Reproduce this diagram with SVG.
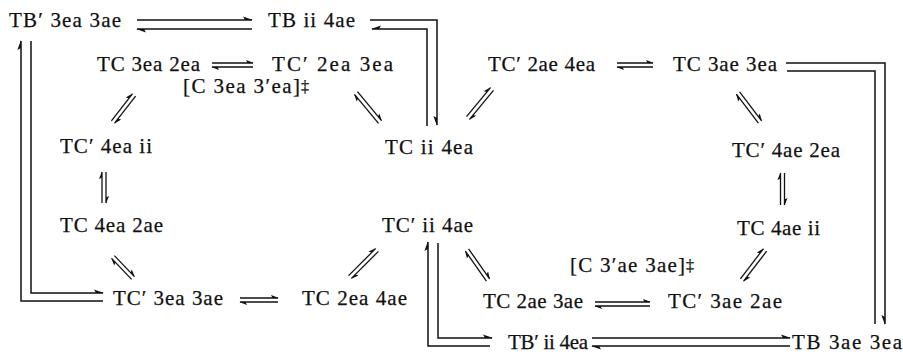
<svg xmlns="http://www.w3.org/2000/svg" width="903" height="355" viewBox="0 0 903 355">
<defs>
<style>
.t{font-family:"Liberation Serif","Times New Roman",serif;font-size:21px;fill:#111;stroke:#111;stroke-width:0.25}
.d{font-family:"Liberation Serif","Times New Roman",serif;font-size:16px;fill:#111;stroke:#111;stroke-width:0.25}
.c{fill:none;stroke:#111;stroke-width:1.5}
.s{fill:none;stroke:#111;stroke-width:1.3}
</style>
<marker id="hu" markerUnits="userSpaceOnUse" orient="auto" overflow="visible" markerWidth="1" markerHeight="1"><path d="M1,0 L-9,-3.6 L-7,0 Z" fill="#111"/></marker>
<marker id="hd" markerUnits="userSpaceOnUse" orient="auto" overflow="visible" markerWidth="1" markerHeight="1"><path d="M1,0 L-9,3.6 L-7,0 Z" fill="#111"/></marker>
<marker id="su" markerUnits="userSpaceOnUse" orient="auto" overflow="visible" markerWidth="1" markerHeight="1"><path d="M0.8,0 L-7,-3 L-5.5,0 Z" fill="#111"/></marker>
</defs>
<rect width="903" height="355" fill="#fff"/>

<g id="connectors">
<path class="c" d="M137,20 H252" marker-end="url(#hu)"/>
<path class="c" d="M252,29 H137" marker-end="url(#hu)"/>
<path class="c" d="M370,20 H437 V125" marker-end="url(#hd)"/>
<path class="c" d="M427,126 V29 H372" marker-end="url(#hd)"/>
<path class="c" d="M103,301 H21 V41" marker-end="url(#hu)"/>
<path class="c" d="M31,41 V293 H103" marker-end="url(#hu)"/>
<path class="c" d="M786,63 H885 V324" marker-end="url(#hd)"/>
<path class="c" d="M787,71 H875 V324"/>
<path class="c" d="M490,346 H428 V242" marker-end="url(#hu)"/>
<path class="c" d="M438,243 V338 H492" marker-end="url(#hu)"/>
<path class="c" d="M592,338 H790" marker-end="url(#hu)"/>
<path class="c" d="M790,346 H592" marker-end="url(#hu)"/>
<path class="s" d="M212,63 H253" marker-end="url(#su)"/>
<path class="s" d="M253,67 H212" marker-end="url(#su)"/>
<path class="s" d="M617,63 H653" marker-end="url(#su)"/>
<path class="s" d="M653,67 H617" marker-end="url(#su)"/>
<path class="s" d="M240,298 H278" marker-end="url(#su)"/>
<path class="s" d="M278,302 H240" marker-end="url(#su)"/>
<path class="s" d="M595,302 H650" marker-end="url(#su)"/>
<path class="s" d="M650,306 H595" marker-end="url(#su)"/>
<path class="s" d="M102,203 V172" marker-end="url(#su)"/>
<path class="s" d="M106,172 V203" marker-end="url(#su)"/>
<path class="s" d="M780.5,205 V173" marker-end="url(#su)"/>
<path class="s" d="M784.5,173 V205" marker-end="url(#su)"/>
<path class="s" d="M111.4,120.8 L132.4,93.8" marker-end="url(#su)"/>
<path class="s" d="M135.6,96.2 L114.6,123.2" marker-end="url(#su)"/>
<path class="s" d="M357.5,91.7 L381.5,120.7" marker-end="url(#su)"/>
<path class="s" d="M378.5,123.3 L354.5,94.3" marker-end="url(#su)"/>
<path class="s" d="M466.5,116.7 L490.5,87.7" marker-end="url(#su)"/>
<path class="s" d="M493.5,90.3 L469.5,119.3" marker-end="url(#su)"/>
<path class="s" d="M739.6,91.8 L761.6,120.8" marker-end="url(#su)"/>
<path class="s" d="M758.4,123.2 L736.4,94.2" marker-end="url(#su)"/>
<path class="s" d="M114.4,255.6 L134.4,276.6" marker-end="url(#su)"/>
<path class="s" d="M131.6,279.4 L111.6,258.4" marker-end="url(#su)"/>
<path class="s" d="M348.6,275.6 L375.6,248.6" marker-end="url(#su)"/>
<path class="s" d="M378.4,251.4 L351.4,278.4" marker-end="url(#su)"/>
<path class="s" d="M468.6,248.9 L489.6,278.9" marker-end="url(#su)"/>
<path class="s" d="M486.4,281.1 L465.4,251.1" marker-end="url(#su)"/>
<path class="s" d="M740.4,278.8 L763.4,248.8" marker-end="url(#su)"/>
<path class="s" d="M766.6,251.2 L743.6,281.2" marker-end="url(#su)"/>
</g>

<g id="n-TBp-3ea-3ae"><text class="t" x="9" y="27" textLength="112" lengthAdjust="spacing">TB′ 3ea 3ae</text></g>
<g id="n-TB-ii-4ae"><text class="t" x="268" y="27" textLength="87" lengthAdjust="spacing">TB ii 4ae</text></g>
<g id="n-TC-3ea-2ea"><text class="t" x="97" y="71" textLength="103" lengthAdjust="spacing">TC 3ea 2ea</text></g>
<g id="n-TCp-2ea-3ea"><text class="t" x="272" y="71" textLength="121" lengthAdjust="spacing">TC′ 2ea 3ea</text></g>
<g id="n-TCp-2ae-4ea"><text class="t" x="488" y="71" textLength="107" lengthAdjust="spacing">TC′ 2ae 4ea</text></g>
<g id="n-TC-3ae-3ea"><text class="t" x="673" y="71" textLength="104" lengthAdjust="spacing">TC 3ae 3ea</text></g>
<g id="n-C-3ea-3pea"><text class="t" x="183" y="93" textLength="117" lengthAdjust="spacing">[C 3ea 3′ea]</text><text class="d" x="301" y="92">‡</text></g>
<g id="n-TCp-4ea-ii"><text class="t" x="60" y="153" textLength="92" lengthAdjust="spacing">TC′ 4ea ii</text></g>
<g id="n-TC-ii-4ea"><text class="t" x="385" y="154" textLength="88" lengthAdjust="spacing">TC ii 4ea</text></g>
<g id="n-TCp-4ae-2ea"><text class="t" x="732" y="157" textLength="108" lengthAdjust="spacing">TC′ 4ae 2ea</text></g>
<g id="n-TC-4ea-2ae"><text class="t" x="60" y="232" textLength="103" lengthAdjust="spacing">TC 4ea 2ae</text></g>
<g id="n-TCp-ii-4ae"><text class="t" x="382" y="232" textLength="91" lengthAdjust="spacing">TC′ ii 4ae</text></g>
<g id="n-TC-4ae-ii"><text class="t" x="737" y="235" textLength="83" lengthAdjust="spacing">TC 4ae ii</text></g>
<g id="n-C-3pae-3ae"><text class="t" x="570" y="272" textLength="115" lengthAdjust="spacing">[C 3′ae 3ae]</text><text class="d" x="686" y="271">‡</text></g>
<g id="n-TCp-3ea-3ae"><text class="t" x="113" y="305" textLength="110" lengthAdjust="spacing">TC′ 3ea 3ae</text></g>
<g id="n-TC-2ea-4ae"><text class="t" x="302" y="305" textLength="105" lengthAdjust="spacing">TC 2ea 4ae</text></g>
<g id="n-TC-2ae-3ae"><text class="t" x="483" y="308" textLength="100" lengthAdjust="spacing">TC 2ae 3ae</text></g>
<g id="n-TCp-3ae-2ae"><text class="t" x="668" y="308" textLength="114" lengthAdjust="spacing">TC′ 3ae 2ae</text></g>
<g id="n-TBp-ii-4ea"><text class="t" x="508" y="349" textLength="80" lengthAdjust="spacing">TB′ ii 4ea</text></g>
<g id="n-TB-3ae-3ea"><text class="t" x="792" y="349" textLength="110" lengthAdjust="spacing">TB 3ae 3ea</text></g>
</svg>
